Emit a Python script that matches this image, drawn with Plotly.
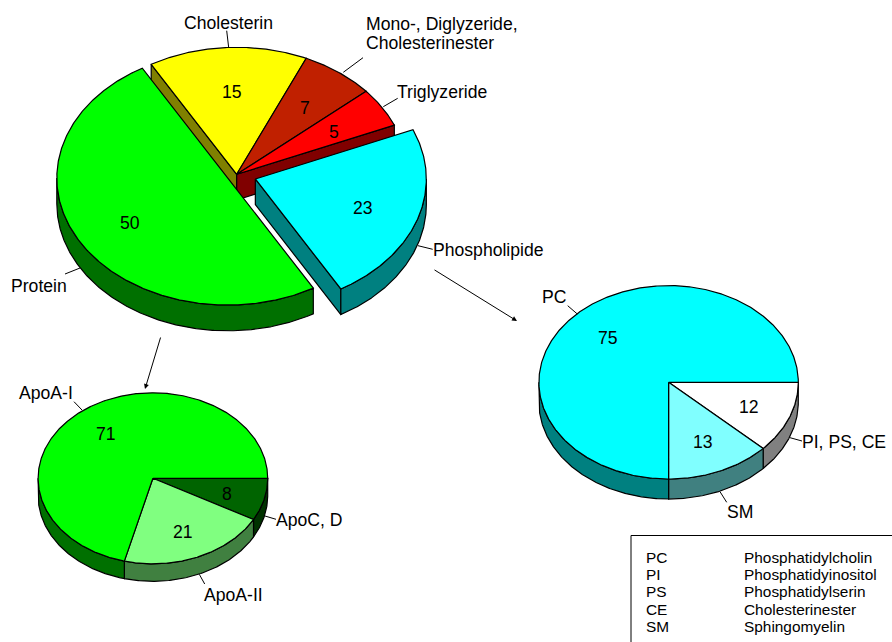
# three "3D" pies on one page: lipoprotein composition, apolipoproteins, phospholipids
# plotly has no tilted pie so wedges get built from the values on an ellipse

import numpy as np
import plotly.graph_objects as go

# main pie, clockwise from start angle
main_labels = ["Cholesterin", "Mono-, Diglyzeride, Cholesterinester", "Triglyzeride", "Phospholipide", "Protein"]
main_values = [15, 7, 5, 23, 50]

# lower left pie
apo_labels = ["ApoC, D", "ApoA-II", "ApoA-I"]
apo_values = [8, 21, 71]

# right pie
phos_labels = ["PI, PS, CE", "SM", "PC"]
phos_values = [12, 13, 75]

legend_short = ["PC", "PI", "PS", "CE", "SM"]
legend_long = ["Phosphatidylcholin", "Phosphatidyinositol", "Phosphatidylserin", "Cholesterinester", "Sphingomyelin"]

# colours per slice: top, side
main_colors = ["#ffff00", "#c02000", "#ff0000", "#00ffff", "#00ff00"]
main_sides = ["#808000", "#601000", "#800000", "#008080", "#007000"]
apo_colors = ["#006400", "#80ff80", "#00ff00"]
apo_sides = ["#003200", "#408040", "#007000"]
phos_colors = ["#ffffff", "#80ffff", "#00ffff"]
phos_sides = ["#808080", "#408080", "#008080"]

LABEL_SIZE = 17.6
LEGEND_SIZE = 15.4
FONT = "Liberation Sans, Arial, sans-serif"


def arc(cx, cy, rx, ry, a0, a1):
    # angles in degrees clockwise from 12 o'clock, y axis points down
    t = np.radians(np.linspace(a0, a1, max(int(abs(a1 - a0)) * 2, 2)))
    return cx + rx * np.sin(t), cy - ry * np.cos(t)


def poly(fig, xs, ys, color):
    fig.add_trace(go.Scatter(x=xs, y=ys, mode="lines", fill="toself", fillcolor=color,
                             line=dict(color="black", width=1.2), hoverinfo="skip", showlegend=False))


def pie3d(fig, values, colors, sides, cx, cy, rx, ry, depth, start, explode):
    angles = start + np.cumsum([0] + list(values)) * 3.6
    n = len(values)
    centers = []
    for i in range(n):
        mid = np.radians((angles[i] + angles[i + 1]) / 2)
        centers.append((cx + rx * explode[i] * np.sin(mid), cy - ry * explode[i] * np.cos(mid)))

    # sides go first, tops after that. exploded slices are painted last
    order = sorted(range(n), key=lambda i: explode[i])
    done = []
    for i in order:
        x0, y0 = centers[i]
        a0, a1 = angles[i], angles[i + 1]
        # cut faces only show next to a slice that moved away
        for a, other, front in [(a0, (i - 1) % n, np.sin(np.radians(a0)) < 0),
                                (a1, (i + 1) % n, np.sin(np.radians(a1)) > 0)]:
            if front and explode[other] != explode[i]:
                ex, ey = arc(x0, y0, rx, ry, a, a)
                poly(fig, [x0, ex[0], ex[0], x0, x0], [y0, ey[0], ey[0] + depth, y0 + depth, y0], sides[i])
        # rim on the front half only
        for lo, hi in [(90, 270), (450, 630)]:
            r0, r1 = max(a0, lo), min(a1, hi)
            if r1 > r0:
                ax, ay = arc(x0, y0, rx, ry, r0, r1)
                poly(fig, np.r_[ax, ax[::-1], ax[0]], np.r_[ay, ay[::-1] + depth, ay[0]], sides[i])
        done.append(i)
        if i == order[-1] or explode[order[done.__len__()]] != explode[i]:
            for j in done:
                ax, ay = arc(centers[j][0], centers[j][1], rx, ry, angles[j], angles[j + 1])
                poly(fig, np.r_[centers[j][0], ax, centers[j][0]], np.r_[centers[j][1], ay, centers[j][1]], colors[j])
            done = []


fig = go.Figure()

pie3d(fig, main_values, main_colors, main_sides, 236.7, 174.3, 171, 127, 25.7, -30, [0, 0, 0, 0.115, 0.06])
pie3d(fig, apo_values, apo_colors, apo_sides, 152.9, 478.3, 114.8, 85.5, 17.5, 90, [0, 0, 0])
pie3d(fig, phos_values, phos_colors, phos_sides, 668.6, 382.3, 129.7, 96.7, 20, 90, [0, 0, 0])


def txt(x, y, s, size=LABEL_SIZE, anchor="center"):
    fig.add_annotation(x=x, y=y, text=s, showarrow=False, xanchor=anchor, yanchor="middle",
                       font=dict(family=FONT, size=size, color="black"))


# numbers inside the slices
for x, y, v in zip([231.5, 304.5, 334, 363, 129.5], [91.5, 108, 132, 207.5, 223], main_values):
    txt(x, y, str(v))
for x, y, v in zip([227, 182.7, 105.7], [494, 531.7, 434], apo_values):
    txt(x, y, str(v))
for x, y, v in zip([749.3, 703.3, 607.7], [406.7, 441.7, 338], phos_values):
    txt(x, y, str(v))

# outside labels, left anchored ones sit 2px right of x because of annotation padding
txt(228.5, 23, main_labels[0])
txt(363.5, 24, "Mono-, Diglyzeride,", anchor="left")
txt(363.5, 43, "Cholesterinester", anchor="left")
txt(395, 92, main_labels[2], anchor="left")
txt(431, 250, main_labels[3], anchor="left")
txt(9, 286, main_labels[4], anchor="left")
txt(274, 520, apo_labels[0], anchor="left")
txt(202, 595, apo_labels[1], anchor="left")
txt(17, 393, apo_labels[2], anchor="left")
txt(800, 442, phos_labels[0], anchor="left")
txt(724.5, 512, phos_labels[1], anchor="left")
txt(540, 297, phos_labels[2], anchor="left")

# leader lines
leaders = [(226.7, 30.7, 228.7, 47.7), (363, 57.7, 343.3, 72.3), (397.7, 98.3, 383.3, 106.7),
           (65, 274, 80, 268), (418, 245.7, 432.7, 249.3), (74, 401.7, 82, 410),
           (265, 516, 276, 519.3), (199.3, 574.3, 204.7, 584), (567.7, 305.7, 577.3, 314),
           (790, 437.7, 802, 441), (720, 491.7, 726.7, 502.3)]
shapes = [dict(type="line", x0=a, y0=b, x1=c, y1=d, xref="x", yref="y", line=dict(color="black", width=1))
          for a, b, c, d in leaders]

# legend box runs off the page at the right and bottom
shapes.append(dict(type="rect", x0=631, y0=535.5, x1=905, y1=660, xref="x", yref="y",
                   line=dict(color="black", width=1)))

for y, a, b in zip([557, 574.3, 591.6, 609, 626.2], legend_short, legend_long):
    txt(644, y, a, size=LEGEND_SIZE, anchor="left")
    txt(742, y, b, size=LEGEND_SIZE, anchor="left")

# the two arrows between the pies
for ax, ay, x, y in [(161, 336, 145, 389), (433, 269, 517, 321)]:
    fig.add_annotation(x=x, y=y, ax=ax, ay=ay, xref="x", yref="y", axref="x", ayref="y", text="",
                       showarrow=True, arrowhead=2, arrowsize=1, arrowwidth=1, arrowcolor="black", standoff=0)

fig.update_layout(width=892, height=642, margin=dict(l=0, r=0, t=0, b=0), shapes=shapes,
                  paper_bgcolor="white", plot_bgcolor="white", showlegend=False)
fig.update_xaxes(range=[0, 892], visible=False, fixedrange=True)
fig.update_yaxes(range=[642, 0], visible=False, fixedrange=True)

# default body margin would push the whole chart 8px down and right
fig.write_html("out.html", config=dict(displayModeBar=False),
               post_script="document.body.style.margin='0';document.body.style.overflow='hidden';")
